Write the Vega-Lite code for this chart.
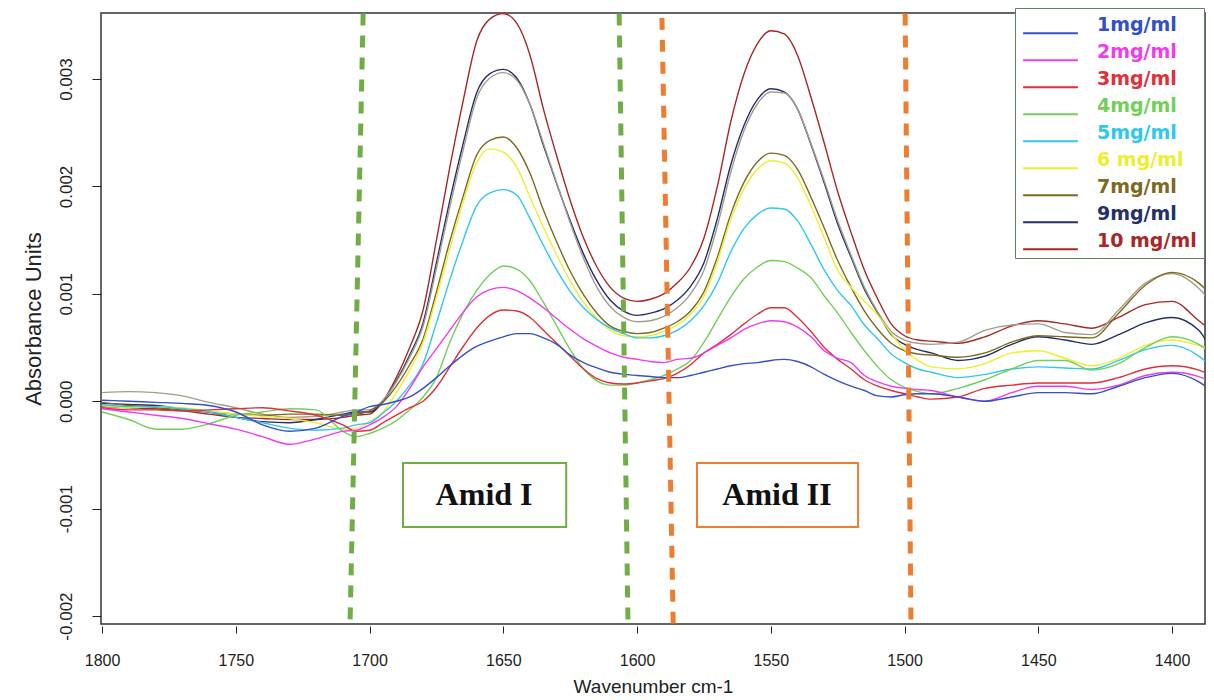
{
"$schema":"https://vega.github.io/schema/vega-lite/v6.json",
"width":1104,"height":611,
"autosize":{"type":"none"},
"padding":{"left":101,"top":13,"right":9,"bottom":76},
"background":"white",
"config":{"view":{"stroke":"#333333","strokeWidth":1.5},"font":"Liberation Sans"},
"datasets":{
"bounds":[
{"xa":1702.4,"xb":1707.3,"ya":0.00361,"yb":-0.00207,"c":"#70ad47"},
{"xa":1606.7,"xb":1603.4,"ya":0.00361,"yb":-0.00207,"c":"#70ad47"},
{"xa":1590.7,"xb":1586.5,"ya":0.00357,"yb":-0.00207,"c":"#ed7d31"},
{"xa":1499.8,"xb":1497.6,"ya":0.00361,"yb":-0.00207,"c":"#ed7d31"}
],
"boxes":[
{"xa":1687.5,"xb":1626.5,"ya":-0.000575,"yb":-0.00117,"ym":-0.00087,"xm":1657.2,"c":"#70ad47","t":"Amid I"},
{"xa":1577.6,"xb":1517.4,"ya":-0.000575,"yb":-0.00117,"ym":-0.00087,"xm":1547.7,"c":"#ed7d31","t":"Amid II"}
],
"spectra":[
{"w":1800,"s":"10 mg/ml","a":-0.00005},{"w":1790,"s":"10 mg/ml","a":-0.00006},{"w":1780,"s":"10 mg/ml","a":-0.00007},{"w":1770,"s":"10 mg/ml","a":-0.00009},{"w":1760,"s":"10 mg/ml","a":-0.00012},{"w":1750,"s":"10 mg/ml","a":-0.00015},{"w":1740,"s":"10 mg/ml","a":-0.00016},{"w":1730,"s":"10 mg/ml","a":-0.00017},{"w":1720,"s":"10 mg/ml","a":-0.00017},{"w":1710,"s":"10 mg/ml","a":-0.00015},{"w":1705,"s":"10 mg/ml","a":-0.00013},{"w":1700,"s":"10 mg/ml","a":-0.00012},{"w":1695,"s":"10 mg/ml","a":0},{"w":1690,"s":"10 mg/ml","a":0.00022},{"w":1685,"s":"10 mg/ml","a":0.0005},{"w":1680,"s":"10 mg/ml","a":0.00085},{"w":1675,"s":"10 mg/ml","a":0.0015},{"w":1670,"s":"10 mg/ml","a":0.00218},{"w":1665,"s":"10 mg/ml","a":0.0028},{"w":1660,"s":"10 mg/ml","a":0.00335},{"w":1655,"s":"10 mg/ml","a":0.00356},{"w":1650,"s":"10 mg/ml","a":0.00361},{"w":1645,"s":"10 mg/ml","a":0.00352},{"w":1640,"s":"10 mg/ml","a":0.00322},{"w":1635,"s":"10 mg/ml","a":0.00272},{"w":1630,"s":"10 mg/ml","a":0.00228},{"w":1625,"s":"10 mg/ml","a":0.00187},{"w":1620,"s":"10 mg/ml","a":0.00152},{"w":1615,"s":"10 mg/ml","a":0.00125},{"w":1610,"s":"10 mg/ml","a":0.00106},{"w":1605,"s":"10 mg/ml","a":0.00096},{"w":1600,"s":"10 mg/ml","a":0.00093},{"w":1595,"s":"10 mg/ml","a":0.00095},{"w":1590,"s":"10 mg/ml","a":0.001},{"w":1585,"s":"10 mg/ml","a":0.0011},{"w":1580,"s":"10 mg/ml","a":0.00125},{"w":1575,"s":"10 mg/ml","a":0.00152},{"w":1570,"s":"10 mg/ml","a":0.002},{"w":1565,"s":"10 mg/ml","a":0.0026},{"w":1560,"s":"10 mg/ml","a":0.00305},{"w":1555,"s":"10 mg/ml","a":0.00333},{"w":1550,"s":"10 mg/ml","a":0.00345},{"w":1545,"s":"10 mg/ml","a":0.00342},{"w":1540,"s":"10 mg/ml","a":0.00322},{"w":1535,"s":"10 mg/ml","a":0.00283},{"w":1530,"s":"10 mg/ml","a":0.0024},{"w":1525,"s":"10 mg/ml","a":0.00195},{"w":1520,"s":"10 mg/ml","a":0.00157},{"w":1515,"s":"10 mg/ml","a":0.00122},{"w":1510,"s":"10 mg/ml","a":0.00095},{"w":1505,"s":"10 mg/ml","a":0.00072},{"w":1500,"s":"10 mg/ml","a":0.00061},{"w":1495,"s":"10 mg/ml","a":0.00057},{"w":1490,"s":"10 mg/ml","a":0.00056},{"w":1480,"s":"10 mg/ml","a":0.00054},{"w":1470,"s":"10 mg/ml","a":0.0006},{"w":1460,"s":"10 mg/ml","a":0.0007},{"w":1450,"s":"10 mg/ml","a":0.00075},{"w":1440,"s":"10 mg/ml","a":0.00072},{"w":1430,"s":"10 mg/ml","a":0.00068},{"w":1420,"s":"10 mg/ml","a":0.00078},{"w":1410,"s":"10 mg/ml","a":0.0009},{"w":1400,"s":"10 mg/ml","a":0.00093},{"w":1390,"s":"10 mg/ml","a":0.00075},{"w":1387,"s":"10 mg/ml","a":0.00069},
{"w":1800,"s":"9mg/ml","a":-0.00002},{"w":1790,"s":"9mg/ml","a":-0.00003},{"w":1780,"s":"9mg/ml","a":-0.00004},{"w":1770,"s":"9mg/ml","a":-0.00007},{"w":1760,"s":"9mg/ml","a":-0.0001},{"w":1750,"s":"9mg/ml","a":-0.00015},{"w":1740,"s":"9mg/ml","a":-0.00019},{"w":1730,"s":"9mg/ml","a":-0.0002},{"w":1720,"s":"9mg/ml","a":-0.00017},{"w":1710,"s":"9mg/ml","a":-0.00012},{"w":1705,"s":"9mg/ml","a":-0.0001},{"w":1700,"s":"9mg/ml","a":-0.0001},{"w":1695,"s":"9mg/ml","a":0},{"w":1690,"s":"9mg/ml","a":0.00019},{"w":1685,"s":"9mg/ml","a":0.00043},{"w":1680,"s":"9mg/ml","a":0.00073},{"w":1675,"s":"9mg/ml","a":0.00129},{"w":1670,"s":"9mg/ml","a":0.00187},{"w":1665,"s":"9mg/ml","a":0.0024},{"w":1660,"s":"9mg/ml","a":0.00287},{"w":1655,"s":"9mg/ml","a":0.00305},{"w":1650,"s":"9mg/ml","a":0.00309},{"w":1645,"s":"9mg/ml","a":0.00301},{"w":1640,"s":"9mg/ml","a":0.00276},{"w":1635,"s":"9mg/ml","a":0.00238},{"w":1630,"s":"9mg/ml","a":0.00202},{"w":1625,"s":"9mg/ml","a":0.00168},{"w":1620,"s":"9mg/ml","a":0.00137},{"w":1615,"s":"9mg/ml","a":0.00112},{"w":1610,"s":"9mg/ml","a":0.00094},{"w":1605,"s":"9mg/ml","a":0.00084},{"w":1600,"s":"9mg/ml","a":0.0008},{"w":1595,"s":"9mg/ml","a":0.00082},{"w":1590,"s":"9mg/ml","a":0.00086},{"w":1585,"s":"9mg/ml","a":0.00094},{"w":1580,"s":"9mg/ml","a":0.00107},{"w":1575,"s":"9mg/ml","a":0.00129},{"w":1570,"s":"9mg/ml","a":0.0017},{"w":1565,"s":"9mg/ml","a":0.0022},{"w":1560,"s":"9mg/ml","a":0.00257},{"w":1555,"s":"9mg/ml","a":0.00281},{"w":1550,"s":"9mg/ml","a":0.00291},{"w":1545,"s":"9mg/ml","a":0.00288},{"w":1540,"s":"9mg/ml","a":0.00272},{"w":1535,"s":"9mg/ml","a":0.00239},{"w":1530,"s":"9mg/ml","a":0.00203},{"w":1525,"s":"9mg/ml","a":0.00165},{"w":1520,"s":"9mg/ml","a":0.00134},{"w":1515,"s":"9mg/ml","a":0.00104},{"w":1510,"s":"9mg/ml","a":0.00082},{"w":1505,"s":"9mg/ml","a":0.00062},{"w":1500,"s":"9mg/ml","a":0.00053},{"w":1495,"s":"9mg/ml","a":0.00048},{"w":1490,"s":"9mg/ml","a":0.00045},{"w":1480,"s":"9mg/ml","a":0.00038},{"w":1470,"s":"9mg/ml","a":0.00042},{"w":1460,"s":"9mg/ml","a":0.00053},{"w":1450,"s":"9mg/ml","a":0.0006},{"w":1440,"s":"9mg/ml","a":0.00057},{"w":1430,"s":"9mg/ml","a":0.00053},{"w":1420,"s":"9mg/ml","a":0.00062},{"w":1410,"s":"9mg/ml","a":0.00073},{"w":1400,"s":"9mg/ml","a":0.00078},{"w":1390,"s":"9mg/ml","a":0.00066},{"w":1387,"s":"9mg/ml","a":0.00055},
{"w":1800,"s":"8mg/ml","a":0.00008},{"w":1790,"s":"8mg/ml","a":0.00009},{"w":1780,"s":"8mg/ml","a":0.00008},{"w":1770,"s":"8mg/ml","a":0.00005},{"w":1760,"s":"8mg/ml","a":-0.00001},{"w":1750,"s":"8mg/ml","a":-0.00006},{"w":1740,"s":"8mg/ml","a":-0.00012},{"w":1730,"s":"8mg/ml","a":-0.00015},{"w":1720,"s":"8mg/ml","a":-0.00014},{"w":1710,"s":"8mg/ml","a":-0.0001},{"w":1705,"s":"8mg/ml","a":-0.00008},{"w":1700,"s":"8mg/ml","a":-0.00008},{"w":1695,"s":"8mg/ml","a":0.00001},{"w":1690,"s":"8mg/ml","a":0.00018},{"w":1685,"s":"8mg/ml","a":0.00041},{"w":1680,"s":"8mg/ml","a":0.0007},{"w":1675,"s":"8mg/ml","a":0.00124},{"w":1670,"s":"8mg/ml","a":0.00181},{"w":1665,"s":"8mg/ml","a":0.00234},{"w":1660,"s":"8mg/ml","a":0.00282},{"w":1655,"s":"8mg/ml","a":0.00301},{"w":1650,"s":"8mg/ml","a":0.00306},{"w":1645,"s":"8mg/ml","a":0.00299},{"w":1640,"s":"8mg/ml","a":0.00276},{"w":1635,"s":"8mg/ml","a":0.0024},{"w":1630,"s":"8mg/ml","a":0.00203},{"w":1625,"s":"8mg/ml","a":0.00166},{"w":1620,"s":"8mg/ml","a":0.00133},{"w":1615,"s":"8mg/ml","a":0.00106},{"w":1610,"s":"8mg/ml","a":0.00088},{"w":1605,"s":"8mg/ml","a":0.00078},{"w":1600,"s":"8mg/ml","a":0.00074},{"w":1595,"s":"8mg/ml","a":0.00075},{"w":1590,"s":"8mg/ml","a":0.00079},{"w":1585,"s":"8mg/ml","a":0.00087},{"w":1580,"s":"8mg/ml","a":0.001},{"w":1575,"s":"8mg/ml","a":0.00122},{"w":1570,"s":"8mg/ml","a":0.00163},{"w":1565,"s":"8mg/ml","a":0.00213},{"w":1560,"s":"8mg/ml","a":0.00252},{"w":1555,"s":"8mg/ml","a":0.00277},{"w":1550,"s":"8mg/ml","a":0.00288},{"w":1545,"s":"8mg/ml","a":0.00287},{"w":1540,"s":"8mg/ml","a":0.00272},{"w":1535,"s":"8mg/ml","a":0.0024},{"w":1530,"s":"8mg/ml","a":0.00205},{"w":1525,"s":"8mg/ml","a":0.00168},{"w":1520,"s":"8mg/ml","a":0.00136},{"w":1515,"s":"8mg/ml","a":0.00106},{"w":1510,"s":"8mg/ml","a":0.00083},{"w":1505,"s":"8mg/ml","a":0.00065},{"w":1500,"s":"8mg/ml","a":0.00057},{"w":1495,"s":"8mg/ml","a":0.00054},{"w":1490,"s":"8mg/ml","a":0.00053},{"w":1480,"s":"8mg/ml","a":0.00055},{"w":1470,"s":"8mg/ml","a":0.00066},{"w":1460,"s":"8mg/ml","a":0.00071},{"w":1450,"s":"8mg/ml","a":0.00072},{"w":1440,"s":"8mg/ml","a":0.00064},{"w":1430,"s":"8mg/ml","a":0.00062},{"w":1420,"s":"8mg/ml","a":0.00085},{"w":1410,"s":"8mg/ml","a":0.0011},{"w":1400,"s":"8mg/ml","a":0.00119},{"w":1390,"s":"8mg/ml","a":0.00105},{"w":1387,"s":"8mg/ml","a":0.00097},
{"w":1800,"s":"7mg/ml","a":-0.00001},{"w":1790,"s":"7mg/ml","a":-0.00004},{"w":1780,"s":"7mg/ml","a":-0.00006},{"w":1770,"s":"7mg/ml","a":-0.00008},{"w":1760,"s":"7mg/ml","a":-0.0001},{"w":1750,"s":"7mg/ml","a":-0.00012},{"w":1740,"s":"7mg/ml","a":-0.00013},{"w":1730,"s":"7mg/ml","a":-0.00012},{"w":1720,"s":"7mg/ml","a":-0.00012},{"w":1710,"s":"7mg/ml","a":-0.00013},{"w":1705,"s":"7mg/ml","a":-0.00012},{"w":1700,"s":"7mg/ml","a":-0.00009},{"w":1695,"s":"7mg/ml","a":-0.00001},{"w":1690,"s":"7mg/ml","a":0.00014},{"w":1685,"s":"7mg/ml","a":0.00034},{"w":1680,"s":"7mg/ml","a":0.00058},{"w":1675,"s":"7mg/ml","a":0.00102},{"w":1670,"s":"7mg/ml","a":0.00149},{"w":1665,"s":"7mg/ml","a":0.00191},{"w":1660,"s":"7mg/ml","a":0.00229},{"w":1655,"s":"7mg/ml","a":0.00243},{"w":1650,"s":"7mg/ml","a":0.00246},{"w":1645,"s":"7mg/ml","a":0.00236},{"w":1640,"s":"7mg/ml","a":0.00212},{"w":1635,"s":"7mg/ml","a":0.00178},{"w":1630,"s":"7mg/ml","a":0.00148},{"w":1625,"s":"7mg/ml","a":0.00121},{"w":1620,"s":"7mg/ml","a":0.00099},{"w":1615,"s":"7mg/ml","a":0.00082},{"w":1610,"s":"7mg/ml","a":0.0007},{"w":1605,"s":"7mg/ml","a":0.00065},{"w":1600,"s":"7mg/ml","a":0.00063},{"w":1595,"s":"7mg/ml","a":0.00064},{"w":1590,"s":"7mg/ml","a":0.00068},{"w":1585,"s":"7mg/ml","a":0.00074},{"w":1580,"s":"7mg/ml","a":0.00084},{"w":1575,"s":"7mg/ml","a":0.00102},{"w":1570,"s":"7mg/ml","a":0.00134},{"w":1565,"s":"7mg/ml","a":0.00174},{"w":1560,"s":"7mg/ml","a":0.00204},{"w":1555,"s":"7mg/ml","a":0.00223},{"w":1550,"s":"7mg/ml","a":0.00231},{"w":1545,"s":"7mg/ml","a":0.00229},{"w":1540,"s":"7mg/ml","a":0.00216},{"w":1535,"s":"7mg/ml","a":0.0019},{"w":1530,"s":"7mg/ml","a":0.00161},{"w":1525,"s":"7mg/ml","a":0.00131},{"w":1520,"s":"7mg/ml","a":0.00106},{"w":1515,"s":"7mg/ml","a":0.00084},{"w":1510,"s":"7mg/ml","a":0.00067},{"w":1505,"s":"7mg/ml","a":0.00054},{"w":1500,"s":"7mg/ml","a":0.00047},{"w":1495,"s":"7mg/ml","a":0.00044},{"w":1490,"s":"7mg/ml","a":0.00043},{"w":1480,"s":"7mg/ml","a":0.00041},{"w":1470,"s":"7mg/ml","a":0.00045},{"w":1460,"s":"7mg/ml","a":0.00055},{"w":1450,"s":"7mg/ml","a":0.00061},{"w":1440,"s":"7mg/ml","a":0.0006},{"w":1430,"s":"7mg/ml","a":0.00059},{"w":1420,"s":"7mg/ml","a":0.00082},{"w":1410,"s":"7mg/ml","a":0.00108},{"w":1400,"s":"7mg/ml","a":0.0012},{"w":1390,"s":"7mg/ml","a":0.0011},{"w":1387,"s":"7mg/ml","a":0.00103},
{"w":1800,"s":"6 mg/ml","a":-0.00004},{"w":1790,"s":"6 mg/ml","a":-0.00006},{"w":1780,"s":"6 mg/ml","a":-0.00005},{"w":1770,"s":"6 mg/ml","a":-0.00006},{"w":1760,"s":"6 mg/ml","a":-0.00009},{"w":1750,"s":"6 mg/ml","a":-0.00012},{"w":1740,"s":"6 mg/ml","a":-0.00014},{"w":1730,"s":"6 mg/ml","a":-0.00016},{"w":1720,"s":"6 mg/ml","a":-0.0002},{"w":1710,"s":"6 mg/ml","a":-0.00026},{"w":1705,"s":"6 mg/ml","a":-0.00025},{"w":1700,"s":"6 mg/ml","a":-0.00019},{"w":1695,"s":"6 mg/ml","a":-0.0001},{"w":1690,"s":"6 mg/ml","a":0.00008},{"w":1685,"s":"6 mg/ml","a":0.00029},{"w":1680,"s":"6 mg/ml","a":0.00055},{"w":1675,"s":"6 mg/ml","a":0.00097},{"w":1670,"s":"6 mg/ml","a":0.00142},{"w":1665,"s":"6 mg/ml","a":0.00186},{"w":1660,"s":"6 mg/ml","a":0.00222},{"w":1655,"s":"6 mg/ml","a":0.00235},{"w":1650,"s":"6 mg/ml","a":0.00232},{"w":1645,"s":"6 mg/ml","a":0.00218},{"w":1640,"s":"6 mg/ml","a":0.0019},{"w":1635,"s":"6 mg/ml","a":0.00162},{"w":1630,"s":"6 mg/ml","a":0.00136},{"w":1625,"s":"6 mg/ml","a":0.00112},{"w":1620,"s":"6 mg/ml","a":0.00092},{"w":1615,"s":"6 mg/ml","a":0.00077},{"w":1610,"s":"6 mg/ml","a":0.00066},{"w":1605,"s":"6 mg/ml","a":0.00061},{"w":1600,"s":"6 mg/ml","a":0.0006},{"w":1595,"s":"6 mg/ml","a":0.00061},{"w":1590,"s":"6 mg/ml","a":0.00065},{"w":1585,"s":"6 mg/ml","a":0.00071},{"w":1580,"s":"6 mg/ml","a":0.00081},{"w":1575,"s":"6 mg/ml","a":0.00098},{"w":1570,"s":"6 mg/ml","a":0.0013},{"w":1565,"s":"6 mg/ml","a":0.00169},{"w":1560,"s":"6 mg/ml","a":0.00198},{"w":1555,"s":"6 mg/ml","a":0.00216},{"w":1550,"s":"6 mg/ml","a":0.00224},{"w":1545,"s":"6 mg/ml","a":0.00222},{"w":1540,"s":"6 mg/ml","a":0.00208},{"w":1535,"s":"6 mg/ml","a":0.00182},{"w":1530,"s":"6 mg/ml","a":0.00152},{"w":1525,"s":"6 mg/ml","a":0.00122},{"w":1520,"s":"6 mg/ml","a":0.00106},{"w":1515,"s":"6 mg/ml","a":0.00093},{"w":1510,"s":"6 mg/ml","a":0.0008},{"w":1505,"s":"6 mg/ml","a":0.00063},{"w":1500,"s":"6 mg/ml","a":0.00048},{"w":1495,"s":"6 mg/ml","a":0.00038},{"w":1490,"s":"6 mg/ml","a":0.00032},{"w":1480,"s":"6 mg/ml","a":0.0003},{"w":1470,"s":"6 mg/ml","a":0.00035},{"w":1460,"s":"6 mg/ml","a":0.00045},{"w":1450,"s":"6 mg/ml","a":0.00047},{"w":1440,"s":"6 mg/ml","a":0.0004},{"w":1430,"s":"6 mg/ml","a":0.00033},{"w":1420,"s":"6 mg/ml","a":0.0004},{"w":1410,"s":"6 mg/ml","a":0.00052},{"w":1400,"s":"6 mg/ml","a":0.00057},{"w":1390,"s":"6 mg/ml","a":0.00052},{"w":1387,"s":"6 mg/ml","a":0.0005},
{"w":1800,"s":"5mg/ml","a":-0.00003},{"w":1790,"s":"5mg/ml","a":-0.00005},{"w":1780,"s":"5mg/ml","a":-0.00005},{"w":1770,"s":"5mg/ml","a":-0.00007},{"w":1760,"s":"5mg/ml","a":-0.0001},{"w":1750,"s":"5mg/ml","a":-0.00015},{"w":1740,"s":"5mg/ml","a":-0.0002},{"w":1730,"s":"5mg/ml","a":-0.00025},{"w":1720,"s":"5mg/ml","a":-0.00027},{"w":1710,"s":"5mg/ml","a":-0.00025},{"w":1705,"s":"5mg/ml","a":-0.00022},{"w":1700,"s":"5mg/ml","a":-0.0002},{"w":1695,"s":"5mg/ml","a":-0.00011},{"w":1690,"s":"5mg/ml","a":0},{"w":1685,"s":"5mg/ml","a":0.00015},{"w":1680,"s":"5mg/ml","a":0.00035},{"w":1675,"s":"5mg/ml","a":0.00073},{"w":1670,"s":"5mg/ml","a":0.00113},{"w":1665,"s":"5mg/ml","a":0.0015},{"w":1660,"s":"5mg/ml","a":0.00182},{"w":1655,"s":"5mg/ml","a":0.00194},{"w":1650,"s":"5mg/ml","a":0.00197},{"w":1645,"s":"5mg/ml","a":0.00192},{"w":1640,"s":"5mg/ml","a":0.0017},{"w":1635,"s":"5mg/ml","a":0.00145},{"w":1630,"s":"5mg/ml","a":0.00122},{"w":1625,"s":"5mg/ml","a":0.00102},{"w":1620,"s":"5mg/ml","a":0.00087},{"w":1615,"s":"5mg/ml","a":0.00076},{"w":1610,"s":"5mg/ml","a":0.00068},{"w":1605,"s":"5mg/ml","a":0.00063},{"w":1600,"s":"5mg/ml","a":0.00059},{"w":1595,"s":"5mg/ml","a":0.00059},{"w":1590,"s":"5mg/ml","a":0.00061},{"w":1585,"s":"5mg/ml","a":0.00066},{"w":1580,"s":"5mg/ml","a":0.00075},{"w":1575,"s":"5mg/ml","a":0.00089},{"w":1570,"s":"5mg/ml","a":0.0011},{"w":1565,"s":"5mg/ml","a":0.00139},{"w":1560,"s":"5mg/ml","a":0.00161},{"w":1555,"s":"5mg/ml","a":0.00174},{"w":1550,"s":"5mg/ml","a":0.0018},{"w":1545,"s":"5mg/ml","a":0.00179},{"w":1540,"s":"5mg/ml","a":0.00168},{"w":1535,"s":"5mg/ml","a":0.00146},{"w":1530,"s":"5mg/ml","a":0.00122},{"w":1525,"s":"5mg/ml","a":0.00103},{"w":1520,"s":"5mg/ml","a":0.00089},{"w":1515,"s":"5mg/ml","a":0.00071},{"w":1510,"s":"5mg/ml","a":0.00058},{"w":1505,"s":"5mg/ml","a":0.00044},{"w":1500,"s":"5mg/ml","a":0.00036},{"w":1495,"s":"5mg/ml","a":0.0003},{"w":1490,"s":"5mg/ml","a":0.00027},{"w":1480,"s":"5mg/ml","a":0.00022},{"w":1470,"s":"5mg/ml","a":0.00025},{"w":1460,"s":"5mg/ml","a":0.0003},{"w":1450,"s":"5mg/ml","a":0.00032},{"w":1440,"s":"5mg/ml","a":0.00031},{"w":1430,"s":"5mg/ml","a":0.0003},{"w":1420,"s":"5mg/ml","a":0.00038},{"w":1410,"s":"5mg/ml","a":0.00048},{"w":1400,"s":"5mg/ml","a":0.00052},{"w":1390,"s":"5mg/ml","a":0.00042},{"w":1387,"s":"5mg/ml","a":0.00036},
{"w":1800,"s":"4mg/ml","a":-0.0001},{"w":1790,"s":"4mg/ml","a":-0.00017},{"w":1780,"s":"4mg/ml","a":-0.00026},{"w":1770,"s":"4mg/ml","a":-0.00026},{"w":1760,"s":"4mg/ml","a":-0.00021},{"w":1750,"s":"4mg/ml","a":-0.00013},{"w":1740,"s":"4mg/ml","a":-0.0001},{"w":1730,"s":"4mg/ml","a":-0.00007},{"w":1720,"s":"4mg/ml","a":-0.00008},{"w":1710,"s":"4mg/ml","a":-0.00028},{"w":1705,"s":"4mg/ml","a":-0.00033},{"w":1700,"s":"4mg/ml","a":-0.0003},{"w":1695,"s":"4mg/ml","a":-0.00025},{"w":1690,"s":"4mg/ml","a":-0.00018},{"w":1685,"s":"4mg/ml","a":-0.00008},{"w":1680,"s":"4mg/ml","a":0.00004},{"w":1675,"s":"4mg/ml","a":0.00022},{"w":1670,"s":"4mg/ml","a":0.00055},{"w":1665,"s":"4mg/ml","a":0.00082},{"w":1660,"s":"4mg/ml","a":0.00103},{"w":1655,"s":"4mg/ml","a":0.00118},{"w":1650,"s":"4mg/ml","a":0.00126},{"w":1645,"s":"4mg/ml","a":0.00123},{"w":1640,"s":"4mg/ml","a":0.00112},{"w":1635,"s":"4mg/ml","a":0.00092},{"w":1630,"s":"4mg/ml","a":0.0007},{"w":1625,"s":"4mg/ml","a":0.00048},{"w":1620,"s":"4mg/ml","a":0.0003},{"w":1615,"s":"4mg/ml","a":0.00019},{"w":1610,"s":"4mg/ml","a":0.00015},{"w":1605,"s":"4mg/ml","a":0.00015},{"w":1600,"s":"4mg/ml","a":0.00017},{"w":1595,"s":"4mg/ml","a":0.0002},{"w":1590,"s":"4mg/ml","a":0.00024},{"w":1585,"s":"4mg/ml","a":0.0003},{"w":1580,"s":"4mg/ml","a":0.00038},{"w":1575,"s":"4mg/ml","a":0.00055},{"w":1570,"s":"4mg/ml","a":0.00076},{"w":1565,"s":"4mg/ml","a":0.00097},{"w":1560,"s":"4mg/ml","a":0.00114},{"w":1555,"s":"4mg/ml","a":0.00125},{"w":1550,"s":"4mg/ml","a":0.00131},{"w":1545,"s":"4mg/ml","a":0.0013},{"w":1540,"s":"4mg/ml","a":0.00124},{"w":1535,"s":"4mg/ml","a":0.00115},{"w":1530,"s":"4mg/ml","a":0.00098},{"w":1525,"s":"4mg/ml","a":0.00082},{"w":1520,"s":"4mg/ml","a":0.00064},{"w":1515,"s":"4mg/ml","a":0.00047},{"w":1510,"s":"4mg/ml","a":0.00032},{"w":1505,"s":"4mg/ml","a":0.0002},{"w":1500,"s":"4mg/ml","a":0.00013},{"w":1495,"s":"4mg/ml","a":0.00009},{"w":1490,"s":"4mg/ml","a":0.00007},{"w":1480,"s":"4mg/ml","a":0.00012},{"w":1470,"s":"4mg/ml","a":0.0002},{"w":1460,"s":"4mg/ml","a":0.0003},{"w":1450,"s":"4mg/ml","a":0.00038},{"w":1440,"s":"4mg/ml","a":0.00038},{"w":1430,"s":"4mg/ml","a":0.00029},{"w":1420,"s":"4mg/ml","a":0.00035},{"w":1410,"s":"4mg/ml","a":0.0005},{"w":1400,"s":"4mg/ml","a":0.0006},{"w":1390,"s":"4mg/ml","a":0.00053},{"w":1387,"s":"4mg/ml","a":0.00048},
{"w":1800,"s":"3mg/ml","a":-0.00006},{"w":1790,"s":"3mg/ml","a":-0.00008},{"w":1780,"s":"3mg/ml","a":-0.00008},{"w":1770,"s":"3mg/ml","a":-0.00009},{"w":1760,"s":"3mg/ml","a":-0.00008},{"w":1750,"s":"3mg/ml","a":-0.00007},{"w":1740,"s":"3mg/ml","a":-0.00006},{"w":1730,"s":"3mg/ml","a":-0.00009},{"w":1720,"s":"3mg/ml","a":-0.00013},{"w":1710,"s":"3mg/ml","a":-0.00022},{"w":1705,"s":"3mg/ml","a":-0.00028},{"w":1700,"s":"3mg/ml","a":-0.00027},{"w":1695,"s":"3mg/ml","a":-0.0002},{"w":1690,"s":"3mg/ml","a":-0.00013},{"w":1685,"s":"3mg/ml","a":-0.00006},{"w":1680,"s":"3mg/ml","a":0},{"w":1675,"s":"3mg/ml","a":0.00013},{"w":1670,"s":"3mg/ml","a":0.00032},{"w":1665,"s":"3mg/ml","a":0.00051},{"w":1660,"s":"3mg/ml","a":0.00068},{"w":1655,"s":"3mg/ml","a":0.0008},{"w":1650,"s":"3mg/ml","a":0.00085},{"w":1645,"s":"3mg/ml","a":0.00084},{"w":1640,"s":"3mg/ml","a":0.00078},{"w":1635,"s":"3mg/ml","a":0.00066},{"w":1630,"s":"3mg/ml","a":0.00054},{"w":1625,"s":"3mg/ml","a":0.00042},{"w":1620,"s":"3mg/ml","a":0.0003},{"w":1615,"s":"3mg/ml","a":0.00021},{"w":1610,"s":"3mg/ml","a":0.00017},{"w":1605,"s":"3mg/ml","a":0.00016},{"w":1600,"s":"3mg/ml","a":0.00017},{"w":1595,"s":"3mg/ml","a":0.00019},{"w":1590,"s":"3mg/ml","a":0.00021},{"w":1585,"s":"3mg/ml","a":0.00026},{"w":1580,"s":"3mg/ml","a":0.00034},{"w":1575,"s":"3mg/ml","a":0.00045},{"w":1570,"s":"3mg/ml","a":0.00053},{"w":1565,"s":"3mg/ml","a":0.00062},{"w":1560,"s":"3mg/ml","a":0.00072},{"w":1555,"s":"3mg/ml","a":0.00081},{"w":1550,"s":"3mg/ml","a":0.00087},{"w":1545,"s":"3mg/ml","a":0.00087},{"w":1540,"s":"3mg/ml","a":0.00078},{"w":1535,"s":"3mg/ml","a":0.00065},{"w":1530,"s":"3mg/ml","a":0.0005},{"w":1525,"s":"3mg/ml","a":0.00039},{"w":1520,"s":"3mg/ml","a":0.0003},{"w":1515,"s":"3mg/ml","a":0.0002},{"w":1510,"s":"3mg/ml","a":0.00014},{"w":1505,"s":"3mg/ml","a":0.0001},{"w":1500,"s":"3mg/ml","a":0.00007},{"w":1495,"s":"3mg/ml","a":0.00004},{"w":1490,"s":"3mg/ml","a":0.00002},{"w":1480,"s":"3mg/ml","a":0.00004},{"w":1470,"s":"3mg/ml","a":0.00012},{"w":1460,"s":"3mg/ml","a":0.00015},{"w":1450,"s":"3mg/ml","a":0.00017},{"w":1440,"s":"3mg/ml","a":0.00017},{"w":1430,"s":"3mg/ml","a":0.00017},{"w":1420,"s":"3mg/ml","a":0.00022},{"w":1410,"s":"3mg/ml","a":0.0003},{"w":1400,"s":"3mg/ml","a":0.00033},{"w":1390,"s":"3mg/ml","a":0.00029},{"w":1387,"s":"3mg/ml","a":0.00026},
{"w":1800,"s":"2mg/ml","a":-0.00007},{"w":1790,"s":"2mg/ml","a":-0.0001},{"w":1780,"s":"2mg/ml","a":-0.00013},{"w":1770,"s":"2mg/ml","a":-0.00016},{"w":1760,"s":"2mg/ml","a":-0.00021},{"w":1750,"s":"2mg/ml","a":-0.00026},{"w":1740,"s":"2mg/ml","a":-0.00033},{"w":1730,"s":"2mg/ml","a":-0.0004},{"w":1720,"s":"2mg/ml","a":-0.00035},{"w":1710,"s":"2mg/ml","a":-0.00028},{"w":1705,"s":"2mg/ml","a":-0.00027},{"w":1700,"s":"2mg/ml","a":-0.00022},{"w":1695,"s":"2mg/ml","a":-0.00015},{"w":1690,"s":"2mg/ml","a":-0.00005},{"w":1685,"s":"2mg/ml","a":0.00012},{"w":1680,"s":"2mg/ml","a":0.00032},{"w":1675,"s":"2mg/ml","a":0.00049},{"w":1670,"s":"2mg/ml","a":0.00066},{"w":1665,"s":"2mg/ml","a":0.00083},{"w":1660,"s":"2mg/ml","a":0.00097},{"w":1655,"s":"2mg/ml","a":0.00104},{"w":1650,"s":"2mg/ml","a":0.00106},{"w":1645,"s":"2mg/ml","a":0.00103},{"w":1640,"s":"2mg/ml","a":0.00096},{"w":1635,"s":"2mg/ml","a":0.00087},{"w":1630,"s":"2mg/ml","a":0.00077},{"w":1625,"s":"2mg/ml","a":0.00067},{"w":1620,"s":"2mg/ml","a":0.00058},{"w":1615,"s":"2mg/ml","a":0.00051},{"w":1610,"s":"2mg/ml","a":0.00045},{"w":1605,"s":"2mg/ml","a":0.00041},{"w":1600,"s":"2mg/ml","a":0.00039},{"w":1595,"s":"2mg/ml","a":0.00037},{"w":1590,"s":"2mg/ml","a":0.00036},{"w":1585,"s":"2mg/ml","a":0.00039},{"w":1580,"s":"2mg/ml","a":0.0004},{"w":1575,"s":"2mg/ml","a":0.00045},{"w":1570,"s":"2mg/ml","a":0.00052},{"w":1565,"s":"2mg/ml","a":0.00059},{"w":1560,"s":"2mg/ml","a":0.00067},{"w":1555,"s":"2mg/ml","a":0.00072},{"w":1550,"s":"2mg/ml","a":0.00075},{"w":1545,"s":"2mg/ml","a":0.00074},{"w":1540,"s":"2mg/ml","a":0.00069},{"w":1535,"s":"2mg/ml","a":0.0006},{"w":1530,"s":"2mg/ml","a":0.00047},{"w":1525,"s":"2mg/ml","a":0.0004},{"w":1520,"s":"2mg/ml","a":0.00036},{"w":1515,"s":"2mg/ml","a":0.00024},{"w":1510,"s":"2mg/ml","a":0.00018},{"w":1505,"s":"2mg/ml","a":0.00014},{"w":1500,"s":"2mg/ml","a":0.00012},{"w":1495,"s":"2mg/ml","a":0.00011},{"w":1490,"s":"2mg/ml","a":0.0001},{"w":1480,"s":"2mg/ml","a":0.00004},{"w":1470,"s":"2mg/ml","a":0},{"w":1460,"s":"2mg/ml","a":0.00008},{"w":1450,"s":"2mg/ml","a":0.00014},{"w":1440,"s":"2mg/ml","a":0.00014},{"w":1430,"s":"2mg/ml","a":0.00011},{"w":1420,"s":"2mg/ml","a":0.00015},{"w":1410,"s":"2mg/ml","a":0.00024},{"w":1400,"s":"2mg/ml","a":0.00027},{"w":1390,"s":"2mg/ml","a":0.00023},{"w":1387,"s":"2mg/ml","a":0.0002},
{"w":1800,"s":"1mg/ml","a":0.00001},{"w":1790,"s":"1mg/ml","a":0},{"w":1780,"s":"1mg/ml","a":-0.00001},{"w":1770,"s":"1mg/ml","a":-0.00002},{"w":1760,"s":"1mg/ml","a":-0.00004},{"w":1750,"s":"1mg/ml","a":-0.0001},{"w":1740,"s":"1mg/ml","a":-0.00022},{"w":1730,"s":"1mg/ml","a":-0.00028},{"w":1720,"s":"1mg/ml","a":-0.00025},{"w":1710,"s":"1mg/ml","a":-0.00014},{"w":1705,"s":"1mg/ml","a":-0.0001},{"w":1700,"s":"1mg/ml","a":-0.00005},{"w":1695,"s":"1mg/ml","a":-0.00003},{"w":1690,"s":"1mg/ml","a":0},{"w":1685,"s":"1mg/ml","a":0.00004},{"w":1680,"s":"1mg/ml","a":0.00012},{"w":1675,"s":"1mg/ml","a":0.00022},{"w":1670,"s":"1mg/ml","a":0.00033},{"w":1665,"s":"1mg/ml","a":0.00043},{"w":1660,"s":"1mg/ml","a":0.00051},{"w":1655,"s":"1mg/ml","a":0.00056},{"w":1650,"s":"1mg/ml","a":0.0006},{"w":1645,"s":"1mg/ml","a":0.00063},{"w":1640,"s":"1mg/ml","a":0.00063},{"w":1635,"s":"1mg/ml","a":0.00059},{"w":1630,"s":"1mg/ml","a":0.00053},{"w":1625,"s":"1mg/ml","a":0.00043},{"w":1620,"s":"1mg/ml","a":0.00036},{"w":1615,"s":"1mg/ml","a":0.00031},{"w":1610,"s":"1mg/ml","a":0.00027},{"w":1605,"s":"1mg/ml","a":0.00025},{"w":1600,"s":"1mg/ml","a":0.00024},{"w":1595,"s":"1mg/ml","a":0.00023},{"w":1590,"s":"1mg/ml","a":0.00022},{"w":1585,"s":"1mg/ml","a":0.00022},{"w":1580,"s":"1mg/ml","a":0.00024},{"w":1575,"s":"1mg/ml","a":0.00027},{"w":1570,"s":"1mg/ml","a":0.0003},{"w":1565,"s":"1mg/ml","a":0.00033},{"w":1560,"s":"1mg/ml","a":0.00035},{"w":1555,"s":"1mg/ml","a":0.00036},{"w":1550,"s":"1mg/ml","a":0.00038},{"w":1545,"s":"1mg/ml","a":0.00039},{"w":1540,"s":"1mg/ml","a":0.00037},{"w":1535,"s":"1mg/ml","a":0.00032},{"w":1530,"s":"1mg/ml","a":0.00025},{"w":1525,"s":"1mg/ml","a":0.00019},{"w":1520,"s":"1mg/ml","a":0.00014},{"w":1515,"s":"1mg/ml","a":0.0001},{"w":1510,"s":"1mg/ml","a":0.00005},{"w":1505,"s":"1mg/ml","a":0.00004},{"w":1500,"s":"1mg/ml","a":0.00006},{"w":1495,"s":"1mg/ml","a":0.00007},{"w":1490,"s":"1mg/ml","a":0.00007},{"w":1480,"s":"1mg/ml","a":0.00004},{"w":1470,"s":"1mg/ml","a":0},{"w":1460,"s":"1mg/ml","a":0.00004},{"w":1450,"s":"1mg/ml","a":0.00008},{"w":1440,"s":"1mg/ml","a":0.00008},{"w":1430,"s":"1mg/ml","a":0.00007},{"w":1420,"s":"1mg/ml","a":0.00014},{"w":1410,"s":"1mg/ml","a":0.00022},{"w":1400,"s":"1mg/ml","a":0.00026},{"w":1390,"s":"1mg/ml","a":0.00018},{"w":1387,"s":"1mg/ml","a":0.00013}
]
},
"layer":[
{"data":{"name":"spectra"},
 "mark":{"type":"line","interpolate":"monotone","strokeWidth":1.4,"clip":true},
 "encoding":{
  "x":{"field":"w","type":"quantitative","scale":{"domain":[1387.7,1800.4],"reverse":true,"nice":false,"zero":false},
   "axis":{"values":[1400,1450,1500,1550,1600,1650,1700,1750,1800],"format":"d","grid":false,"domain":false,"tickSize":7,"offset":2,"tickColor":"#222","labelFontSize":16,"labelColor":"#222","labelPadding":19,"title":"Wavenumber cm-1","titleFontSize":19,"titleFontWeight":"normal","titleColor":"#222","titlePadding":9}},
  "y":{"field":"a","type":"quantitative","scale":{"domain":[-0.002074,0.003615],"nice":false,"zero":false},
   "axis":{"values":[-0.002,-0.001,0,0.001,0.002,0.003],"labelExpr":"replace(format(datum.value, '.3f'), '\u2212', '-')","labelAngle":-90,"grid":false,"domain":false,"tickSize":9,"tickColor":"#222","labelFontSize":17,"labelColor":"#222","labelPadding":17,"title":"Absorbance Units","titleFontSize":22,"titleFontWeight":"normal","titleColor":"#222","titlePadding":12}},
  "color":{"field":"s","type":"nominal",
   "scale":{"domain":["1mg/ml","2mg/ml","3mg/ml","4mg/ml","5mg/ml","6 mg/ml","7mg/ml","8mg/ml","9mg/ml","10 mg/ml"],
            "range":["#3350c8","#f03cf0","#e0303a","#72d05a","#30c8ee","#eeee30","#7d6a22","#a39e8c","#25306a","#a82828"]},
   "legend":{"orient":"none","legendX":914,"legendY":-5,"title":null,
     "values":["1mg/ml","2mg/ml","3mg/ml","4mg/ml","5mg/ml","6 mg/ml","7mg/ml","9mg/ml","10 mg/ml"],
     "symbolType":"M -1 0.3 L 1 0.3","symbolSize":3000,"symbolStrokeWidth":2,
     "clipHeight":20,"rowPadding":7,"padding":7,"labelOffset":18,
     "labelFont":"DejaVu Sans","labelFontWeight":"bold","labelFontSize":19,
     "labelColor":{"expr":"scale('color', datum.value)"},
     "fillColor":"white","strokeColor":"#5f7f5f"}},
  "order":{"value":0}
 }},
{"data":{"name":"bounds"},
 "mark":{"type":"rule","strokeWidth":5,"strokeDash":[12,10],"strokeCap":"butt"},
 "encoding":{
  "x":{"field":"xa","type":"quantitative","scale":{"domain":[1387.7,1800.4],"reverse":true,"nice":false,"zero":false}},
  "x2":{"field":"xb"},
  "y":{"field":"ya","type":"quantitative","scale":{"domain":[-0.002074,0.003615],"nice":false,"zero":false}},
  "y2":{"field":"yb"},
  "color":{"field":"c","type":"nominal","scale":null,"legend":null}
 }},
{"data":{"name":"boxes"},
 "mark":{"type":"rect","fill":"white","strokeWidth":2},
 "encoding":{
  "x":{"field":"xa","type":"quantitative","scale":{"domain":[1387.7,1800.4],"reverse":true,"nice":false,"zero":false}},
  "x2":{"field":"xb"},
  "y":{"field":"ya","type":"quantitative","scale":{"domain":[-0.002074,0.003615],"nice":false,"zero":false}},
  "y2":{"field":"yb"},
  "stroke":{"field":"c","type":"nominal","scale":null,"legend":null}
 }},
{"data":{"name":"boxes"},
 "mark":{"type":"text","font":"Liberation Serif","fontWeight":"bold","fontSize":32,"color":"#111","baseline":"middle","align":"center"},
 "encoding":{
  "x":{"field":"xm","type":"quantitative","scale":{"domain":[1387.7,1800.4],"reverse":true,"nice":false,"zero":false}},
  "y":{"field":"ym","type":"quantitative","scale":{"domain":[-0.002074,0.003615],"nice":false,"zero":false}},
  "text":{"field":"t"}
 }}
]
}
